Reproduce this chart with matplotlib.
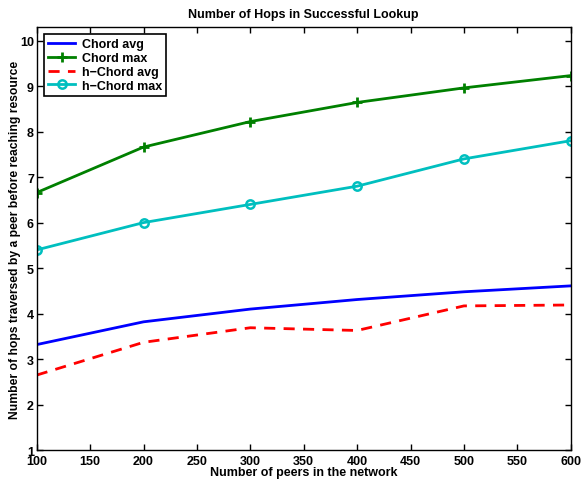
import matplotlib
matplotlib.use("Agg")
import matplotlib.pyplot as plt

# network sizes (number of peers)
peers = [100, 200, 300, 400, 500, 600]

# hops to reach resource
chord_avg = [3.32, 3.82, 4.10, 4.31, 4.48, 4.61]
chord_max = [6.66, 7.66, 8.22, 8.64, 8.96, 9.23]
hchord_avg = [2.65, 3.37, 3.69, 3.63, 4.17, 4.19]
hchord_max = [5.40, 6.00, 6.40, 6.80, 7.40, 7.80]

xticks = [100, 150, 200, 250, 300, 350, 400, 450, 500, 550, 600]
yticks = [1, 2, 3, 4, 5, 6, 7, 8, 9, 10]

plt.rcParams['font.family'] = ['Liberation Sans', 'DejaVu Sans']
plt.rcParams['font.weight'] = 'bold'

fig = plt.figure(figsize=(5.83, 4.81), dpi=100)
ax = fig.add_axes([0.063, 0.062, 0.916, 0.880])

ax.plot(peers, chord_avg, color='#0000ff', lw=2, label='Chord avg')
ax.plot(peers, chord_max, color='#008000', lw=2, marker='+', ms=7, mew=2,
        label='Chord max')
ax.plot(peers, hchord_avg, color='#ff0000', lw=2, ls=(0, (4, 3)),
        label='h\u2212Chord avg')
ax.plot(peers, hchord_max, color='#00bfbf', lw=2, marker='o', ms=6, mew=1.8,
        mfc='none', label='h\u2212Chord max')

ax.set_xlim(100, 600)
ax.set_ylim(1, 10.3)
ax.set_xticks(xticks)
ax.set_yticks(yticks)
ax.tick_params(direction='in', top=True, right=True, length=4, width=1,
               labelsize=9, pad=2)
ax.tick_params(axis='x', pad=3.5)
for lab in ax.get_xticklabels() + ax.get_yticklabels():
    lab.set_fontweight('bold')
for s in ax.spines.values():
    s.set_linewidth(1)

ax.set_title('Number of Hops in Successful Lookup', fontsize=9,
             fontweight='bold', pad=7)
ax.set_xlabel('Number of peers in the network', fontsize=9,
              fontweight='bold', labelpad=-1)
ax.set_ylabel('Number of hops traversed by a peer before reaching resource',
              fontsize=8.7, fontweight='bold', labelpad=-1)

leg = ax.legend(loc='upper left', fancybox=False, framealpha=1,
                edgecolor='black', handlelength=2.2,
                borderpad=0.3, labelspacing=0.15, handletextpad=0.5,
                borderaxespad=0.6, prop={'weight': 'bold', 'size': 9})
leg.get_frame().set_linewidth(1.2)

fig.savefig('out.png', dpi=100)
